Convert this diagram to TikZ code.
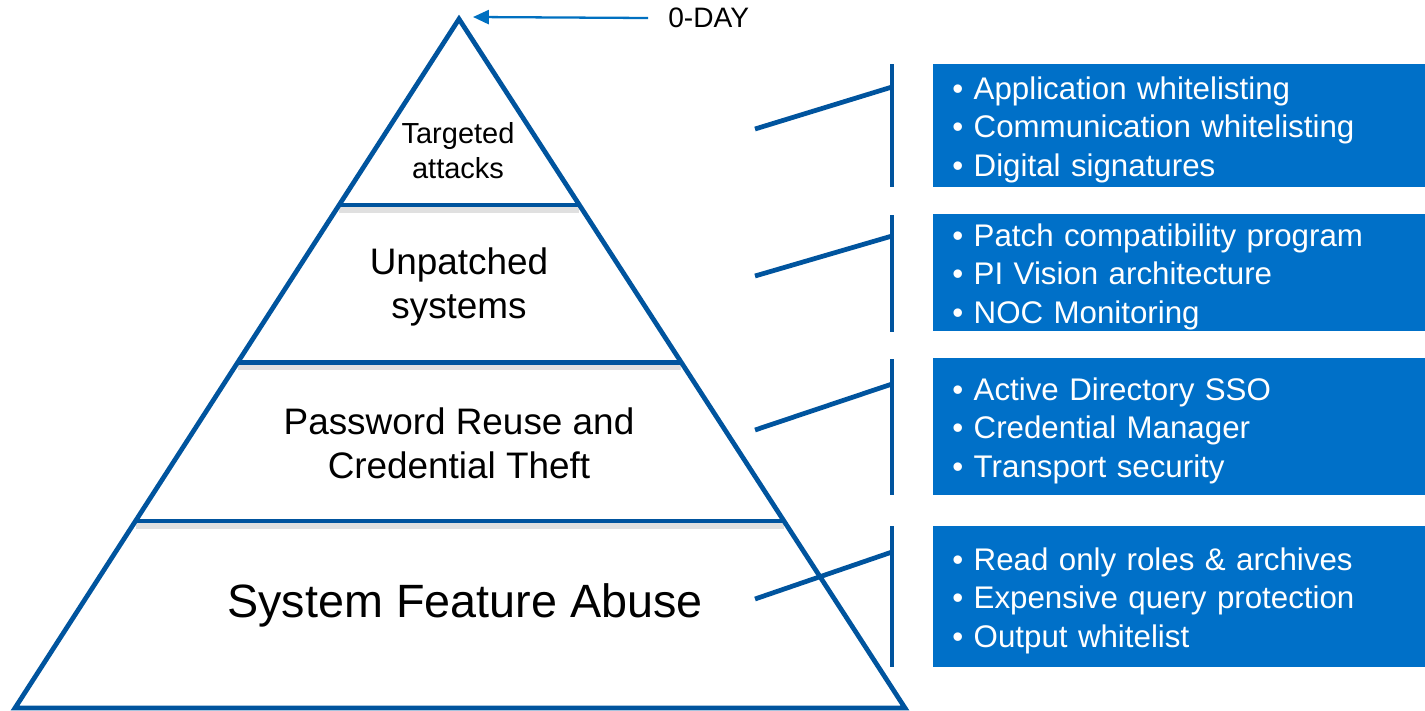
\documentclass[tikz,border=0pt]{standalone}
\usepackage{fontspec}
\setmainfont{Liberation Sans}
\usepackage{xcolor}
\usetikzlibrary{arrows.meta,calc}
\definecolor{pyrblue}{RGB}{0,84,158}
\definecolor{boxblue}{RGB}{0,112,200}
\definecolor{arrblue}{RGB}{0,112,192}

\begin{document}
\begin{tikzpicture}[x=0.02cm, y=-0.02cm,
    edge/.style={draw=pyrblue, line width=2.7pt},
    bandshadow/.style={draw=black!20, line width=3.5pt, opacity=.6},
    level/.style={align=center, inner sep=0pt},
    list/.style={fill=boxblue, text=white, anchor=north west, text width=9.08cm,
        inner xsep=0.38cm, inner ysep=0pt, align=left,
        execute at begin node={\rule{0pt}{17.5pt}},
        font=\fontsize{17.8}{21.8}\selectfont},
    dayarrow/.style={draw=arrblue, line width=1.3pt, -{Triangle[length=9pt, width=8pt]}}]
\useasboundingbox (0,0) rectangle (1425,710);

% pyramid
\coordinate (apex) at (459,19);
\coordinate (bl) at (15,708);
\coordinate (br) at (905,708);
\foreach \i/\t in {1/0.270, 2/0.4985, 3/0.7286} {
    \coordinate (l\i) at ($(apex)!\t!(bl)$);
    \coordinate (r\i) at ($(apex)!\t!(br)$);
    \draw[bandshadow] ([yshift=-0.09cm]l\i) -- ([yshift=-0.09cm]r\i);
    \draw[edge] (l\i) -- (r\i);
}
\draw[edge] (apex) -- (bl) -- (br) -- cycle;

\node[level, font=\fontsize{16.5}{19.8}\selectfont] (t1) at (458,151) {Targeted\\attacks};
\node[level, font=\fontsize{21}{25}\selectfont] (t2) at (459,287) {Unpatched\\systems};
\node[level, font=\fontsize{21}{25}\selectfont] (t3) at (459,443) {Password Reuse and\\Credential Theft};
\node[level, font=\fontsize{26.6}{32}\selectfont] (t4) at (465,605) {System Feature Abuse};

% 0-day marker
\coordinate (tip) at (473,17);
\node[anchor=west, inner sep=0pt, font=\fontsize{16}{19}\selectfont] (day) at (668,18) {0-DAY};
\draw[dayarrow] ([xshift=-0.4cm]day.west) -- (tip);

% mitigation boxes
\node[list, minimum height=2.46cm] (b1) at (933,64) {%
    • Application whitelisting\\
    • Communication whitelisting\\
    • Digital signatures};
\node[list, minimum height=2.34cm] (b2) at (933,214) {%
    • Patch compatibility program\\
    • PI Vision architecture\\
    • NOC Monitoring};
\node[list, minimum height=2.74cm] (b3) at (933,358) {%
    • Active Directory SSO\\
    • Credential Manager\\
    • Transport security};
\node[list, minimum height=2.82cm] (b4) at (933,526) {%
    • Read only roles \& archives\\
    • Expensive query protection\\
    • Output whitelist};

% connectors
\foreach \i/\top/\bot/\from/\to in {1/64/187/129/87, 2/215/332/276/236,
        3/359/495/430/384, 4/526/667/599/552} {
    \coordinate (bt\i) at (892,\top);
    \coordinate (bb\i) at (892,\bot);
    \coordinate (s\i) at (755,\from);
    \coordinate (j\i) at (892,\to);
    \draw[edge] (bt\i) -- (bb\i);
    \draw[edge] (s\i) -- (j\i);
}
\end{tikzpicture}
\end{document}
